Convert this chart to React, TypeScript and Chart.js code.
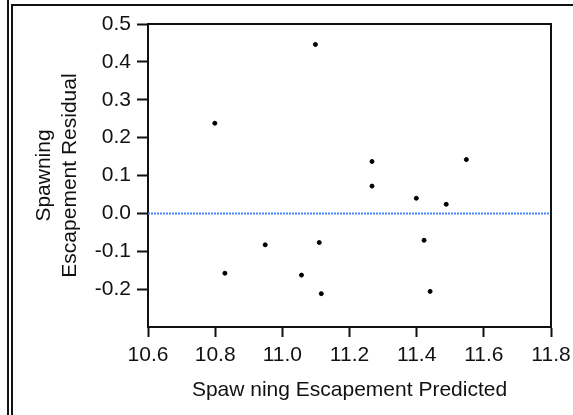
import React, { useEffect, useRef } from "react";
import { Chart, registerables } from "chart.js";

Chart.register(...registerables);

const xPredicted = [10.799, 10.829, 10.949, 11.057, 11.0985, 11.11, 11.116, 11.267, 11.267, 11.399, 11.422, 11.44, 11.488, 11.548];
const yResidual = [0.238, -0.158, -0.083, -0.163, 0.446, -0.077, -0.212, 0.137, 0.072, 0.04, -0.071, -0.206, 0.024, 0.142];
const xTickValues = [10.6, 10.8, 11.0, 11.2, 11.4, 11.6, 11.8];
const yTickValues = [-0.2, -0.1, 0.0, 0.1, 0.2, 0.3, 0.4, 0.5];
const referenceLine = [0, 0];
const xTitle = "Spaw ning Escapement Predicted";
const yTitle = ["Spawning", "Escapement Residual"];

const FONT = '"Liberation Sans", Arial, Helvetica, sans-serif';
const INK = "#111";

const boxPlugin = {
  id: "plotBox",
  afterDraw(chart: any) {
    const { ctx, chartArea } = chart;
    ctx.save();
    ctx.strokeStyle = INK;
    ctx.lineWidth = 2;
    ctx.beginPath();
    ctx.moveTo(chartArea.left, chartArea.top);
    ctx.lineTo(chartArea.right, chartArea.top);
    ctx.lineTo(chartArea.right, chartArea.bottom);
    ctx.stroke();
    ctx.restore();
  },
};

export default function App() {
  const ref = useRef<HTMLCanvasElement | null>(null);

  useEffect(() => {
    if (!ref.current) return;
    const xMin = xTickValues[0];
    const xMax = xTickValues[xTickValues.length - 1];
    const chart = new Chart(ref.current, {
      type: "scatter",
      data: {
        datasets: [
          {
            label: "Residuals",
            data: xPredicted.map((x, i) => ({ x, y: yResidual[i] })),
            backgroundColor: "#000",
            borderColor: "#000",
            pointRadius: 2,
            pointHoverRadius: 2,
            order: 1,
          },
          {
            label: "Zero",
            data: [
              { x: xMin, y: referenceLine[0] },
              { x: xMax, y: referenceLine[1] },
            ],
            showLine: true,
            borderColor: "#4a86ff",
            borderWidth: 2,
            borderDash: [2, 1],
            pointRadius: 0,
            order: 2,
          } as any,
        ],
      },
      options: {
        animation: false,
        responsive: false,
        devicePixelRatio: 1,
        layout: { padding: { top: 24, right: 22, left: 0, bottom: 0 } },
        plugins: { legend: { display: false }, tooltip: { enabled: false } },
        scales: {
          x: {
            type: "linear",
            min: xMin,
            max: xMax,
            afterBuildTicks: (scale: any) => {
              scale.ticks = xTickValues.map((v) => ({ value: v }));
            },
            afterFit: (scale: any) => {
              scale.height = 88;
              scale.paddingLeft = 0;
              scale.paddingRight = 0;
            },
            ticks: {
              color: INK,
              font: { family: FONT, size: 21 },
              padding: 6,
              maxRotation: 0,
              autoSkip: false,
              callback: (v: any) => Number(v).toFixed(1),
            },
            grid: {
              drawOnChartArea: false,
              drawTicks: true,
              tickLength: 10,
              tickWidth: 2,
              tickColor: INK,
            },
            border: { display: true, color: INK, width: 2 },
            title: {
              display: true,
              text: xTitle,
              color: INK,
              font: { family: FONT, size: 21 },
              padding: { top: 0, bottom: 12 },
            },
          },
          y: {
            type: "linear",
            min: -0.3,
            max: 0.5,
            afterBuildTicks: (scale: any) => {
              scale.ticks = yTickValues.map((v) => ({ value: v }));
            },
            afterFit: (scale: any) => {
              scale.width = 148;
              scale.paddingTop = 0;
              scale.paddingBottom = 0;
            },
            ticks: {
              color: INK,
              font: { family: FONT, size: 21 },
              padding: 6,
              autoSkip: false,
              callback: (v: any) => Number(v).toFixed(1),
            },
            grid: {
              drawOnChartArea: false,
              drawTicks: true,
              tickLength: 11,
              tickWidth: 2,
              tickColor: INK,
            },
            border: { display: true, color: INK, width: 2 },
            title: {
              display: true,
              text: yTitle,
              color: INK,
              font: { family: FONT, size: 21, lineHeight: "26px" },
              padding: { top: 31, bottom: 0 },
            },
          },
        },
      },
      plugins: [boxPlugin],
    });
    return () => chart.destroy();
  }, []);

  return (
    <div style={{ position: "absolute", left: 0, top: 0, width: 573, height: 415, background: "#fff", overflow: "hidden" }}>
      <div style={{ position: "absolute", left: 7, top: 0, width: 2, height: 415, background: INK }} />
      <div style={{ position: "absolute", left: 11, top: 4, width: 2, height: 411, background: INK }} />
      <div style={{ position: "absolute", left: 11, top: 4, width: 562, height: 2, background: INK }} />
      <canvas ref={ref} width={573} height={415} style={{ position: "absolute", left: 0, top: 0, width: 573, height: 415 }} />
    </div>
  );
}
